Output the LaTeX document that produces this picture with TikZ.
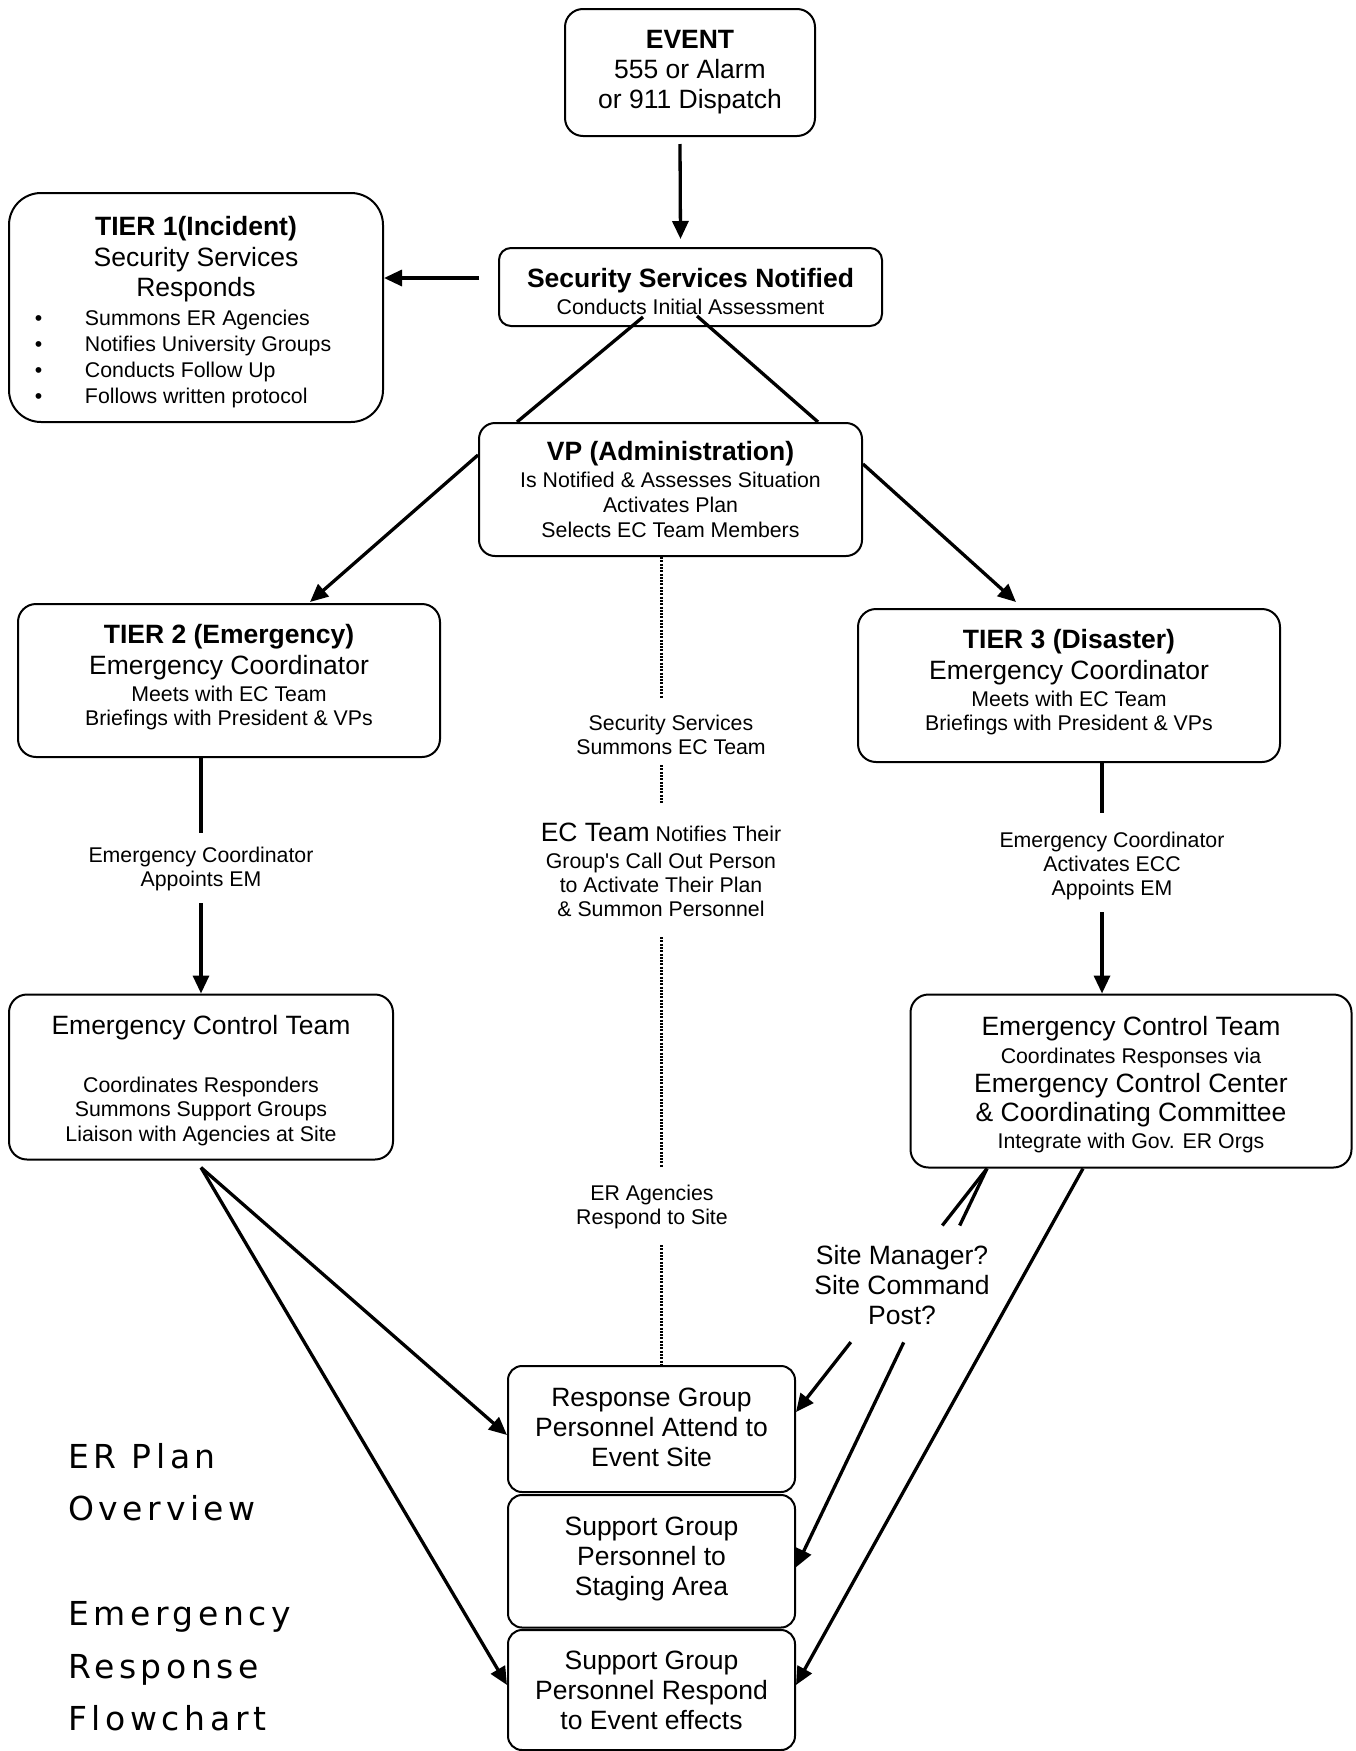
\documentclass[tikz,border=0pt]{standalone}
\usepackage{fontspec}
\setmainfont{Liberation Sans}
\newfontfamily\titlefont[LetterSpace=14]{DejaVu Sans}
\usetikzlibrary{arrows.meta,calc}
\newcommand\BigTxt{\fontsize{26.5}{30}\selectfont\lineskiplimit=-100pt\relax}
\newcommand\SmTxt{\fontsize{21.3}{24.7}\selectfont\lineskiplimit=-100pt\relax}
\newcommand\TOneTxt{\fontsize{26.5}{30.5}\selectfont\lineskiplimit=-100pt\relax}
\newcommand\ECRTxt{\fontsize{26.5}{28.5}\selectfont\lineskiplimit=-100pt\relax}
\newcommand\TitleTxt{\titlefont\fontsize{33}{52.5}\selectfont\lineskiplimit=-100pt\relax}
\newcommand\bul[1]{\makebox[374pt][l]{\SmTxt\hspace*{26pt}\makebox[50pt][l]{•}#1}}
\newcommand\ctr[1]{\makebox[374pt][c]{#1}}
\newcommand\up[1]{\rule{0pt}{#1}}
\newcommand\dn[1]{\rule[-#1]{0pt}{0pt}}
\begin{document}
\begin{tikzpicture}[x=1pt,y=-1pt,
  box/.style={draw, line width=2pt, align=center, inner sep=0pt},
  arr/.style={line width=3.3pt, -{Triangle[length=18pt,width=16pt]}},
  ln/.style={line width=3.3pt},
  dotl/.style={line width=3pt, dash pattern=on 2pt off 1.3pt},
  lab/.style={align=center, font=\SmTxt, inner sep=0pt}]
\fill[white] (0,0) rectangle (1356,1751);
\useasboundingbox (0,0) rectangle (1356,1751);

% boxes
\node[box, rounded corners=18pt, minimum width=250pt, minimum height=127pt, font=\BigTxt] (event) at (690,72.5)
  {{\bfseries EVENT}\\555 or Alarm\\or 911 Dispatch};
\node[box, rounded corners=12pt, minimum width=383pt, minimum height=78pt, font=\BigTxt] (ssn) at (690.5,287)
  {\up{27.3pt}{\bfseries Security Services Notified}\\[-3pt]{\SmTxt Conducts Initial Assessment}};
\node[box, rounded corners=32pt, minimum width=374pt, minimum height=229pt, font=\TOneTxt, align=left] (t1) at (196,307.5)
  {\ctr{\up{28.3pt}\bfseries TIER 1(Incident)}\\ \ctr{Security Services}\\ \ctr{Responds}\\[-1.5pt]%
   \bul{Summons ER Agencies}\\[-4.5pt]\bul{Notifies University Groups}\\[-4.5pt]\bul{Conducts Follow Up}\\[-5pt]\bul{Follows written protocol}};
\node[box, rounded corners=16pt, minimum width=383pt, minimum height=133pt, font=\SmTxt] (vp) at (670.5,489.5)
  {{\BigTxt\bfseries VP (Administration)}\\[2pt]Is Notified \& Assesses Situation\\Activates Plan\\Selects EC Team Members};
\node[box, rounded corners=18pt, minimum width=422pt, minimum height=153pt, font=\SmTxt] (t2) at (229,680.5)
  {{\BigTxt\bfseries TIER 2 (Emergency)}\\[6.8pt]{\BigTxt Emergency Coordinator}\\[1.8pt]Meets with EC Team\\Briefings with President \& VPs\dn{11.3pt}};
\node[box, rounded corners=18pt, minimum width=422pt, minimum height=153pt, font=\SmTxt] (t3) at (1069,685.5)
  {{\BigTxt\bfseries TIER 3 (Disaster)}\\[6.3pt]{\BigTxt Emergency Coordinator}\\[2.3pt]Meets with EC Team\\Briefings with President \& VPs\dn{11.3pt}};
\node[box, rounded corners=18pt, minimum width=384pt, minimum height=165pt, font=\SmTxt] (ectL) at (201,1077)
  {\up{26.3pt}{\BigTxt Emergency Control Team}\\[33.3pt]Coordinates Responders\\[-0.7pt]Summons Support Groups\\Liaison with Agencies at Site};
\node[box, rounded corners=18pt, minimum width=441pt, minimum height=173pt, font=\ECRTxt] (ectR) at (1131,1081)
  {\up{27.3pt}Emergency Control Team\\[-0.5pt]{\SmTxt Coordinates Responses via}\\Emergency Control Center\\[0.5pt]\& Coordinating Committee\\[-1pt]{\SmTxt Integrate with Gov. ER Orgs}};
\node[box, rounded corners=14pt, minimum width=287pt, minimum height=126pt, font=\BigTxt] (bA) at (651.5,1429)
  {Response Group\\Personnel Attend to\\Event Site\dn{4.4pt}};
\node[box, rounded corners=14pt, minimum width=287pt, minimum height=132.5pt, font=\BigTxt] (bB) at (651.5,1561.25)
  {Support Group\\Personnel to\\Staging Area\dn{10pt}};
\node[box, rounded corners=14pt, minimum width=287pt, minimum height=120pt, font=\BigTxt] (bC) at (651.5,1690)
  {Support Group\\Personnel Respond\\to Event effects};

% labels
\node[lab] (l2) at (201,869) {Emergency Coordinator\\[-0.7pt]Appoints EM};
\node[lab] (l3) at (1112,866) {Emergency Coordinator\\[-0.7pt]Activates ECC\\Appoints EM};
\node[lab] (ls1) at (671,735) {Security Services\\[-0.7pt]Summons EC Team};
\node[lab] (ls2) at (661,870) {{\BigTxt EC Team} Notifies Their\\[1.8pt]Group\textquotesingle s Call Out Person\\to Activate Their Plan\\[-0.7pt]\& Summon Personnel};
\node[lab] (ls3) at (652,1207) {ER Agencies\\Respond to Site};
\node[lab, font=\BigTxt] (site) at (902,1285) {Site Manager?\\Site Command\\Post?};
\node[anchor=north west, inner sep=0pt, align=left, font=\TitleTxt] (title) at (68,1443)
  {ER Plan\\Overview\\[52.5pt]Emergency\\Response\\Flowchart};

% top connectors
\draw[arr] ($(event.south)+(-10,7)$) -- ($(ssn.north)+(-10,-8)$);
\draw[arr] ($(ssn.west)+(-19,-9)$) coordinate (a1) -- (a1 -| t1.east);
\draw[ln] ($(ssn.center)+(-47.5,30)$) -- ($(vp.north)+(-153.5,0)$);
\draw[ln] ($(ssn.center)+(6.5,29)$) -- ($(vp.north)+(147.5,0)$);
\draw[arr] ($(vp.west)+(0,-34.5)$) -- ($(t2.north)+(81,-1)$);
\draw[arr] ($(vp.east)+(0,-25.5)$) -- ($(t3.north)+(-53,-6)$);

% tier to control team
\coordinate (c2a) at (201,833);
\coordinate (c2b) at (201,903);
\draw[ln] (t2.south -| c2a) -- (c2a);
\draw[arr] (c2b) -- (ectL.north);
\coordinate (c3a) at (1102,813);
\coordinate (c3b) at (1102,912);
\draw[ln] (t3.south -| c3a) -- (c3a);
\draw[arr] (c3b) -- (ectR.north -| c3b);

% dotted center line
\coordinate (d1) at (661,698);
\coordinate (d2) at (661,765);
\coordinate (d3) at (661,803);
\coordinate (d4) at (661,937);
\coordinate (d5) at (661,1167);
\coordinate (d6) at (661,1245);
\draw[dotl] (vp.south -| d1) -- (d1);
\draw[dotl] (d2) -- (d3);
\draw[dotl] (d4) -- (d5);
\draw[dotl] (d6) -- (bA.north -| d6);

% left control team to bottom boxes
\coordinate (sL) at ($(ectL.south)+(0,7)$);
\draw[arr] (sL) -- ($(bA.west)+(0,6)$);
\draw[arr] (sL) -- ($(bC.west)+(0,-5)$);

% right control team to bottom boxes
\coordinate (p1) at ($(ectR.south)+(-144,0)$);
\coordinate (q1) at ($(bA.east)+(0,-17)$);
\coordinate (q2) at ($(bB.east)+(0,6)$);
\draw[ln] (p1) -- ($(p1)!0.234!(q1)$);
\draw[arr] ($(p1)!0.713!(q1)$) -- (q1);
\draw[ln] (p1) -- ($(p1)!0.143!(q2)$);
\draw[arr] ($(p1)!0.436!(q2)$) -- (q2);
\draw[arr] ($(ectR.south)+(-48,0)$) -- ($(bC.east)+(0,-5)$);
\end{tikzpicture}
\end{document}
